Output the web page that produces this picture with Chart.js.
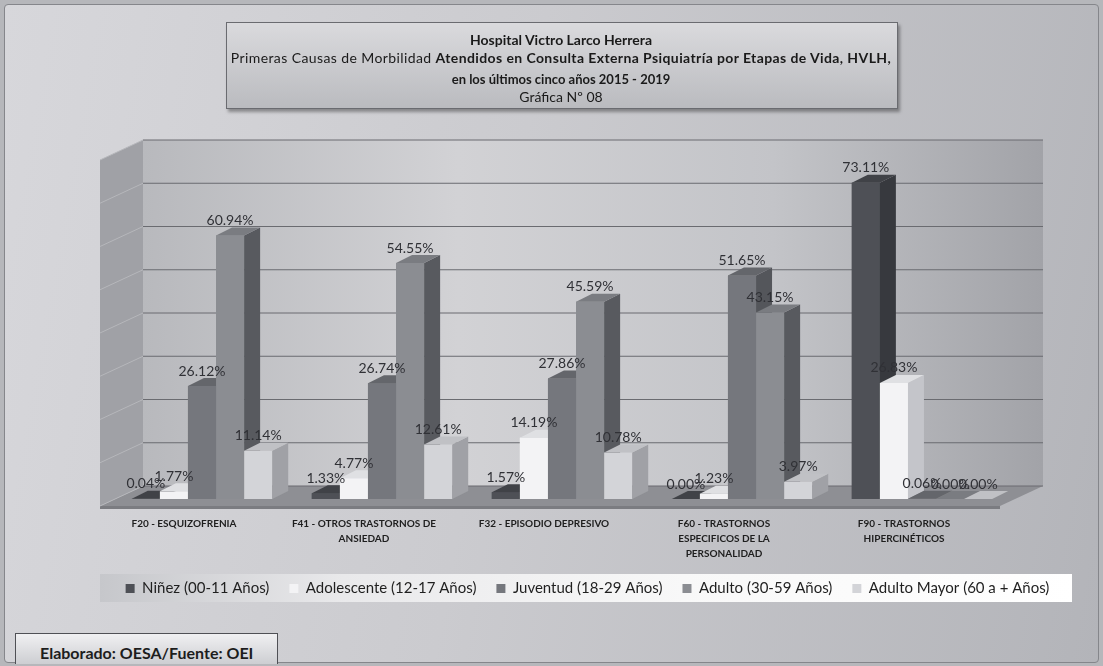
<!DOCTYPE html>
<html lang="es">
<head>
<meta charset="utf-8">
<title>Gráfica Nº 08 - HVLH</title>
<script src="https://cdn.jsdelivr.net/npm/chart.js@4.4.1/dist/chart.umd.min.js"></script>
<style>
  html, body { margin: 0; padding: 0; }
  body { width: 1103px; height: 666px; overflow: hidden; position: relative;
    font-family: Lato, 'Open Sans', sans-serif; background: #b6b7bb; }
  #frame { position: absolute; left: 4px; top: 4px; width: 1093px; height: 657px;
    border: 1px solid #85868b; border-radius: 4px;
    background: linear-gradient(100deg, #d7d7db 0%, #cbcbcf 45%, #b3b4b9 100%); }
  #band { position: absolute; left: 100px; top: 574px; width: 972px; height: 28px;
    background: linear-gradient(to right, #c6c7cb 0%, #e9e9eb 25%, #f8f8f8 60%, #ffffff 100%); }
  #chart { position: absolute; left: 0; top: 0; }
  #title { position: absolute; left: 226px; top: 22px; width: 670px; height: 85px;
    border: 1px solid #6a6b70; background: linear-gradient(to bottom, #dadadd, #babbbf);
    box-shadow: 2px 3px 3px rgba(0,0,0,.35); font-size: 14px; color: #1a1a1a; }
  #title div { position: absolute; left: 334px; white-space: nowrap; line-height: 18px; transform: translateX(-50%); }
  #foot { position: absolute; left: 15px; top: 633px; width: 263px; height: 31px; box-sizing: border-box;
    border: 1px solid #4f5055; border-bottom: none; padding-left: 24px; padding-top: 5px;
    background: linear-gradient(to bottom, #f0f0f2, #cdced2);
    font-weight: bold; font-size: 16px; line-height: 28px; color: #1d1d1d; }
</style>
</head>
<body>
<div id="frame"></div>
<div id="band"></div>
<canvas id="chart" width="1103" height="666"></canvas>
<div id="title">
  <div style="top:8px; font-weight:bold;">Hospital Victro Larco Herrera</div>
  <div style="top:26px; letter-spacing:0.4px;">Primeras Causas de Morbilidad <b>Atendidos en Consulta Externa Psiquiatría por Etapas de Vida, HVLH,</b></div>
  <div style="top:47px; font-weight:bold; font-size:13px;">en los últimos cinco años 2015 - 2019</div>
  <div style="top:65px;">Gráfica Nº 08</div>
</div>
<div id="foot">Elaborado: OESA/Fuente: OEI</div>

<script>
// ── Datos ─────────────────────────────────────────
const categorias = [
  'F20 - ESQUIZOFRENIA',
  ['F41 - OTROS TRASTORNOS DE', 'ANSIEDAD'],
  'F32 - EPISODIO DEPRESIVO',
  ['F60 - TRASTORNOS', 'ESPECIFICOS DE LA', 'PERSONALIDAD'],
  ['F90 - TRASTORNOS', 'HIPERCINÉTICOS'],
];
const etapas = [
  'Niñez (00-11 Años)',
  'Adolescente (12-17 Años)',
  'Juventud (18-29 Años)',
  'Adulto (30-59 Años)',
  'Adulto Mayor (60 a + Años)',
];
const ninez       = [0.04, 1.33, 1.57, 0.00, 73.11];
const adolescente = [1.77, 4.77, 14.19, 1.23, 26.83];
const juventud    = [26.12, 26.74, 27.86, 51.65, 0.06];
const adulto      = [60.94, 54.55, 45.59, 43.15, 0.00];
const adultoMayor = [11.14, 12.61, 10.78, 3.97, 0.00];
const yTicks = [0, 10, 20, 30, 40, 50, 60, 70, 80];

// ── Estilo ────────────────────────────────────────
const frente  = ['#4e5056', '#f3f3f5', '#75777d', '#8b8d92', '#d3d4d8'];
const lateral = ['#37393e', '#c4c5ca', '#54565b', '#585a5f', '#a0a1a6'];
const tapa    = ['#404247', '#dfe0e3', '#64666b', '#7a7c81', '#c0c1c5'];
const DX = 16, DY = -8;   // profundidad de barra
const WX = 43, WY = -20;  // profundidad de paredes
const FX = -12, FY = 7;   // borde frontal del piso

Chart.defaults.font.family = "Lato, 'Open Sans', sans-serif";

function poly(ctx, pts, color) {
  ctx.beginPath();
  ctx.moveTo(pts[0][0], pts[0][1]);
  pts.slice(1).forEach(p => ctx.lineTo(p[0], p[1]));
  ctx.closePath();
  ctx.fillStyle = color;
  ctx.fill();
}

function seg(ctx, x1, y1, x2, y2, color) {
  ctx.beginPath();
  ctx.moveTo(x1, y1);
  ctx.lineTo(x2, y2);
  ctx.strokeStyle = color;
  ctx.lineWidth = 1;
  ctx.stroke();
}

// paredes, piso, barras en 3D y etiquetas
const tresD = {
  id: 'tresD',
  beforeDatasetsDraw(chart) {
    const { ctx, chartArea: a, scales: { y } } = chart;
    const fl = a.left + FX, fr = a.right + FX, fb = a.bottom + FY, ft = a.top + FY;
    const bl = fl + WX, br = fr + WX, bb = fb + WY, bt = ft + WY;
    ctx.save();
    const g = ctx.createLinearGradient(bl, 0, br, 0);
    g.addColorStop(0, '#b8b9bd');
    g.addColorStop(0.35, '#d2d2d5');
    g.addColorStop(0.7, '#c3c4c8');
    g.addColorStop(1, '#a2a3a8');
    ctx.fillStyle = g;
    ctx.fillRect(bl, bt, br - bl, bb - bt);
    poly(ctx, [[fl, ft], [bl, bt], [bl, bb], [fl, fb]], '#a0a1a6');
    poly(ctx, [[fl, fb], [bl, bb], [br, bb], [fr, fb]], '#8e8f94');
    ctx.fillStyle = '#7b7c81';
    ctx.fillRect(fl, fb, fr - fl, 3);
    y.ticks.forEach(t => {
      const py = y.getPixelForValue(t.value);
      seg(ctx, fl, py + FY, bl, py + FY + WY, '#b6b7bb');
      seg(ctx, bl, py + FY + WY, br, py + FY + WY, '#6a6b70');
    });
    ctx.restore();
  },
  afterDatasetsDraw(chart) {
    const ctx = chart.ctx;
    ctx.save();
    chart.data.datasets.forEach((ds, i) => {
      chart.getDatasetMeta(i).data.forEach(bar => {
        const { x, y, base, width } = bar.getProps(['x', 'y', 'base', 'width'], true);
        const l = x - width / 2, r = x + width / 2;
        bar.draw(ctx);
        poly(ctx, [[r, y], [r + DX, y + DY], [r + DX, base + DY], [r, base]], lateral[i]);
        poly(ctx, [[l, y], [l + DX, y + DY], [r + DX, y + DY], [r, y]], tapa[i]);
      });
    });
    ctx.font = "14px Lato, 'Open Sans', sans-serif";
    ctx.fillStyle = '#303136';
    ctx.textAlign = 'center';
    ctx.textBaseline = 'middle';
    chart.data.datasets.forEach((ds, i) => {
      chart.getDatasetMeta(i).data.forEach((bar, j) => {
        ctx.fillText(ds.data[j].toFixed(2) + '%', bar.x, bar.y - 15);
      });
    });
    ctx.restore();
  },
};

const series = [ninez, adolescente, juventud, adulto, adultoMayor];

const ejeOculto = w => ({
  display: true,
  grid: { display: false },
  border: { display: false },
  ticks: { display: false },
  afterFit: s => { s.width = w; },
});

new Chart(document.getElementById('chart'), {
  type: 'bar',
  data: {
    labels: categorias,
    datasets: series.map((d, i) => ({
      label: etapas[i],
      data: d,
      backgroundColor: frente[i],
      borderWidth: 0,
      categoryPercentage: 0.78,
      barPercentage: 1,
    })),
  },
  options: {
    responsive: false,
    animation: false,
    events: [],
    layout: { padding: { left: 100, right: 28, top: 153, bottom: 60 } },
    plugins: {
      tooltip: { enabled: false },
      legend: {
        position: 'bottom',
        labels: { color: '#1f1f1f', font: { size: 15 }, boxWidth: 9, boxHeight: 9, padding: 20 },
      },
    },
    scales: {
      x: {
        grid: { display: false },
        border: { display: false },
        ticks: {
          color: '#1e1e1e',
          font: { size: 10, weight: 'bold', lineHeight: 1.5 },
          padding: 9,
          labelOffset: -18,
          maxRotation: 0,
          autoSkip: false,
        },
        afterFit: s => { s.height = 62; },
      },
      y: {
        ...ejeOculto(12),
        min: 0,
        max: 80,
        afterBuildTicks: s => { s.ticks = yTicks.map(v => ({ value: v })); },
      },
      y2: {
        ...ejeOculto(63),
        position: 'right',
      },
    },
  },
  plugins: [tresD],
});
</script>
</body>
</html>
